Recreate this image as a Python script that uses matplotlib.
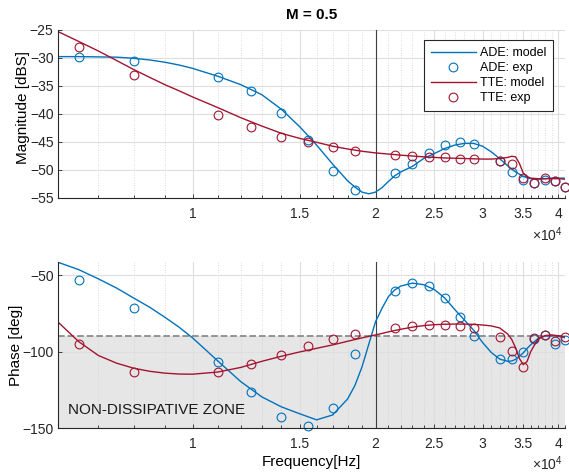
import matplotlib.pyplot as plt
from matplotlib.ticker import NullFormatter

plt.rcParams["font.family"] = ["Liberation Sans", "DejaVu Sans"]
plt.rcParams["mathtext.fontset"] = "custom"
plt.rcParams["mathtext.rm"] = "Liberation Sans"

BLUE = "#0072BD"
RED = "#A2142F"

# measured frequencies (Hz)
f_exp = [6500, 8000, 11000, 12500, 14000, 15500, 17000, 18500, 21500, 23000, 24500,
         26000, 27500, 29000, 32000, 33500, 35000, 36500, 38000, 39500, 41000]

ade_mag_exp = [-29.8, -30.5, -33.5, -35.9, -39.8, -44.7, -50.2, -53.7, -50.6, -48.9, -47.0,
               -45.6, -45.0, -45.4, -48.5, -50.4, -51.8, -52.4, -51.8, -52.1, -53.0]
tte_mag_exp = [-28.0, -33.1, -40.2, -42.3, -44.1, -45.0, -45.9, -46.6, -47.3, -47.55, -47.7,
               -47.8, -48.0, -48.1, -48.4, -48.9, -51.4, -52.4, -51.5, -52.1, -53.0]

ade_ph_exp = [-53.3, -71.7, -106.5, -126.1, -142.4, -148.5, -137.0, -101.7, -60.4, -55.4, -57.2,
              -64.8, -77.2, -89.8, -105.0, -105.0, -100.0, -92.0, -89.1, -95.2, -92.5]
tte_ph_exp = [-95.2, -113.5, -113.5, -108.3, -102.3, -96.3, -92.0, -88.7, -84.4, -83.1, -82.6,
              -82.6, -83.1, -84.8, -90.2, -99.6, -109.8, -91.3, -89.1, -93.0, -90.4]

# model curves
f_model = [6000, 6500, 7000, 7500, 8000, 8500, 9000, 9500, 10000, 11000, 12000, 13000,
           14000, 15000, 16000, 17000, 18000, 18500, 19000, 19500, 20000, 20500, 21000,
           21500, 22000, 23000, 24000, 25000, 26000, 27000, 28000, 29000, 30000, 31000,
           32000, 33000, 33500, 34000, 34500, 35000, 35500, 36000, 37000, 38000, 39000,
           40000, 41000]

ade_mag_model = [-29.8, -29.8, -29.85, -29.9, -30.1, -30.4, -30.8, -31.3, -31.9, -33.3, -34.8,
                 -36.6, -39.2, -42.3, -45.6, -49.0, -52.0, -53.1, -54.0, -54.3, -54.0, -53.2,
                 -52.1, -51.1, -50.4, -49.4, -48.0, -47.1, -46.2, -45.6, -45.3, -45.3, -45.8,
                 -46.8, -48.0, -49.3, -49.9, -50.4, -50.8, -51.2, -51.4, -51.6, -51.7, -51.6,
                 -51.5, -51.5, -51.5]
tte_mag_model = [-25.3, -27.1, -28.8, -30.5, -32.1, -33.5, -34.8, -35.9, -37.0, -38.9, -40.7,
                 -42.2, -43.5, -44.4, -45.1, -45.8, -46.3, -46.5, -46.7, -46.85, -47.0, -47.1,
                 -47.2, -47.3, -47.4, -47.55, -47.7, -47.8, -47.9, -47.95, -48.0, -48.05, -48.1,
                 -48.1, -48.0, -47.8, -47.6, -47.7, -48.9, -50.6, -51.2, -51.5, -51.6, -51.6,
                 -51.6, -51.6, -51.7]

ade_ph_model = [-41.6, -46.5, -52.5, -58.5, -65.0, -71.0, -77.5, -84.0, -91.0, -106.0, -119.5,
                -129.5, -136.0, -140.5, -144.5, -141.3, -130.8, -122.0, -110.0, -95.0, -80.5,
                -71.7, -64.1, -59.8, -57.2, -55.3, -56.3, -59.5, -65.0, -72.5, -79.3, -86.0,
                -94.0, -100.5, -104.8, -106.3, -106.1, -105.0, -103.0, -100.8, -98.0, -95.5,
                -91.5, -89.8, -89.6, -90.0, -90.9]
tte_ph_model = [-80.5, -93.5, -102.5, -107.5, -110.8, -112.8, -114.0, -114.6, -114.7, -113.3,
                -110.3, -106.3, -103.0, -100.2, -97.8, -95.6, -93.2, -92.1, -91.0, -90.0, -89.1,
                -88.1, -87.1, -86.2, -85.4, -84.0, -83.0, -82.4, -82.1, -82.0, -82.0, -82.2,
                -82.6, -83.2, -84.5, -88.5, -92.0, -97.5, -104.5, -108.5, -106.5, -100.0, -91.8,
                -89.5, -89.1, -89.6, -90.2]

x_major = [10000, 15000, 20000, 25000, 30000, 35000, 40000]
x_labels = ["1", "1.5", "2", "2.5", "3", "3.5", "4"]
x_minor = list(range(6000, 41001, 1000))

fig = plt.figure(figsize=(5.69, 4.72), dpi=100)
ax1 = fig.add_axes([0.1014, 0.5811, 0.8916, 0.3559])
ax2 = fig.add_axes([0.1014, 0.0926, 0.8916, 0.3523])


def style_axes(ax):
    ax.set_xscale("log")
    ax.set_xlim(6000, 41000)
    ax.set_xticks(x_major, x_labels)
    ax.set_xticks(x_minor, minor=True)
    ax.xaxis.set_minor_formatter(NullFormatter())
    ax.grid(True, which="major", color="#dedede", lw=0.8)
    ax.grid(True, which="minor", axis="x", color="#cfcfcf", lw=0.6, ls=(0, (1, 2)))
    for s in ("top", "right"):
        ax.spines[s].set_visible(False)
    for s in ("left", "bottom"):
        ax.spines[s].set_color("#262626")
        ax.spines[s].set_linewidth(0.8)
    ax.tick_params(which="both", direction="in", colors="#262626", width=0.6,
                   labelsize=10, top=False, right=False)
    ax.tick_params(which="major", length=3)
    ax.tick_params(which="minor", length=2.5)
    ax.tick_params(axis="x", pad=6.5)
    ax.tick_params(axis="y", pad=3)
    ax.axvline(20000, color="#404040", lw=0.8)


style_axes(ax1)
style_axes(ax2)

# magnitude
ax1.plot(f_model, ade_mag_model, color=BLUE, lw=1.0, label="ADE: model")
ax1.plot(f_exp, ade_mag_exp, "o", mfc="none", mec=BLUE, ms=6.3, mew=0.8,
         label="ADE: exp", clip_on=False)
ax1.plot(f_model, tte_mag_model, color=RED, lw=1.0, label="TTE: model")
ax1.plot(f_exp, tte_mag_exp, "o", mfc="none", mec=RED, ms=6.3, mew=0.8,
         label="TTE: exp", clip_on=False)
ax1.set_ylim(-55, -25)
ax1.set_yticks([-55, -50, -45, -40, -35, -30, -25])
ax1.set_ylabel("Magnitude [dBS]", fontsize=11)
ax1.yaxis.set_label_coords(-0.0546, 0.54)
ax1.set_title("M = 0.5", fontsize=11, fontweight="bold", pad=8)
ax1.text(0.996, -0.255, r"$\mathregular{\times10^{4}}$", transform=ax1.transAxes,
         ha="right", va="baseline", fontsize=10, color="#262626")

leg = ax1.legend(loc="upper right", bbox_to_anchor=(0.9763, 0.9387), borderaxespad=0,
                 fontsize=9, fancybox=False, edgecolor="#262626", framealpha=1,
                 handlelength=3.6, handletextpad=0.3, labelspacing=0.25,
                 borderpad=0.55, numpoints=1)
leg.get_frame().set_linewidth(0.8)

# phase
ax2.axhspan(-150, -90, color="#e6e6e6", lw=0, zorder=1)
ax2.axhline(-90, color="#8c8c8c", ls="--", lw=1.3, zorder=1.6)
ax2.plot(f_model, ade_ph_model, color=BLUE, lw=1.0)
ax2.plot(f_exp, ade_ph_exp, "o", mfc="none", mec=BLUE, ms=6.3, mew=0.8, clip_on=False)
ax2.plot(f_model, tte_ph_model, color=RED, lw=1.0)
ax2.plot(f_exp, tte_ph_exp, "o", mfc="none", mec=RED, ms=6.3, mew=0.8, clip_on=False)
ax2.set_ylim(-150, -41.5)
ax2.set_yticks([-150, -100, -50])
ax2.set_ylabel("Phase [deg]", fontsize=11)
ax2.yaxis.set_label_coords(-0.0684, 0.5)
ax2.set_xlabel("Frequency[Hz]", fontsize=11)
ax2.xaxis.set_label_coords(0.5, -0.16)
ax2.text(0.021, 0.11, "NON-DISSIPATIVE ZONE", transform=ax2.transAxes,
         ha="left", va="center", fontsize=11, color="#1a1a1a")
ax2.text(0.996, -0.25, r"$\mathregular{\times10^{4}}$", transform=ax2.transAxes,
         ha="right", va="baseline", fontsize=10, color="#262626")

fig.savefig("out.png", dpi=100, facecolor="white")
